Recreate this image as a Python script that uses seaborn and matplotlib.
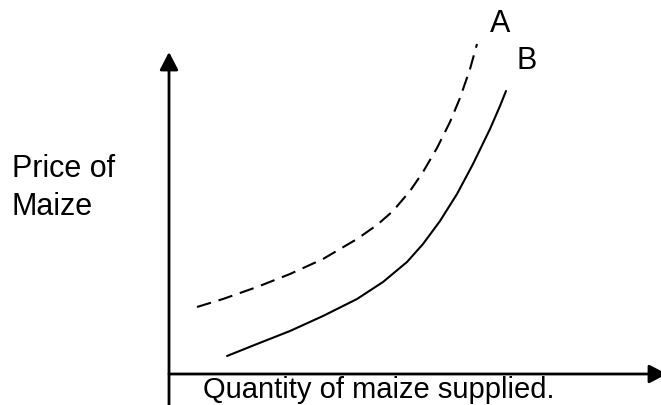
import matplotlib
matplotlib.use("Agg")
import matplotlib.pyplot as plt
import seaborn as sns
import pandas as pd

# Curve A (dashed): quantity vs price (arbitrary units, origin at axes crossing)
qty_a = [28, 54, 88, 121, 154, 188, 208, 224, 241, 254, 268, 281, 291, 301, 308]
price_a = [67, 75, 87, 100, 115, 135, 149, 163, 183, 202, 226, 252, 276, 305, 330]

# Curve B (solid)
qty_b = [58, 88, 121, 154, 188, 214, 238, 254, 271, 288, 304, 321, 331, 337]
price_b = [18, 30, 43, 58, 75, 92, 112, 130, 153, 180, 210, 245, 268, 283]

curve_labels = ["A", "B"]
y_label_lines = ["Price of", "Maize"]
x_label = "Quantity of maize supplied."

sns.set_theme(style="white")
plt.rcParams["font.family"] = ["Liberation Sans", "DejaVu Sans"]
plt.rcParams["text.color"] = "black"

fig = plt.figure(figsize=(6.61, 4.06), dpi=100)
ax = fig.add_axes([0, 0, 1, 1])
ax.set_xlim(-169, 492)
ax.set_ylim(-31, 375)
ax.axis("off")

df_a = pd.DataFrame({"q": qty_a, "p": price_a})
df_b = pd.DataFrame({"q": qty_b, "p": price_b})
sns.lineplot(data=df_a, x="q", y="p", ax=ax, color="black", lw=1.5,
             sort=False, estimator=None)
ax.lines[-1].set_dashes((7, 3.8))
ax.lines[-1].set_solid_joinstyle("round")
sns.lineplot(data=df_b, x="q", y="p", ax=ax, color="black", lw=1.5,
             sort=False, estimator=None)
ax.lines[-1].set_solid_joinstyle("round")

# axes with arrows
arrow_kw = dict(arrowstyle="-|>,head_length=1.08,head_width=0.56",
                mutation_scale=10, lw=2.0, color="black",
                shrinkA=0, shrinkB=0)
ax.annotate("", xy=(0, 322), xytext=(0, -35), arrowprops=arrow_kw,
            annotation_clip=False)
ax.annotate("", xy=(498, 0), xytext=(0, 0), arrowprops=arrow_kw,
            annotation_clip=False)

# labels
ax.text(331, 351, curve_labels[0], fontsize=22, ha="center", va="center", color="black")
ax.text(358, 314, curve_labels[1], fontsize=22, ha="center", va="center", color="black")
ax.text(-157, 198, y_label_lines[0], fontsize=22, ha="left", va="baseline", color="black")
ax.text(-157, 160, y_label_lines[1], fontsize=22, ha="left", va="baseline", color="black")
ax.text(34, -23, x_label, fontsize=21, ha="left", va="baseline", color="black")

fig.savefig("out.png", dpi=100, facecolor="white")
